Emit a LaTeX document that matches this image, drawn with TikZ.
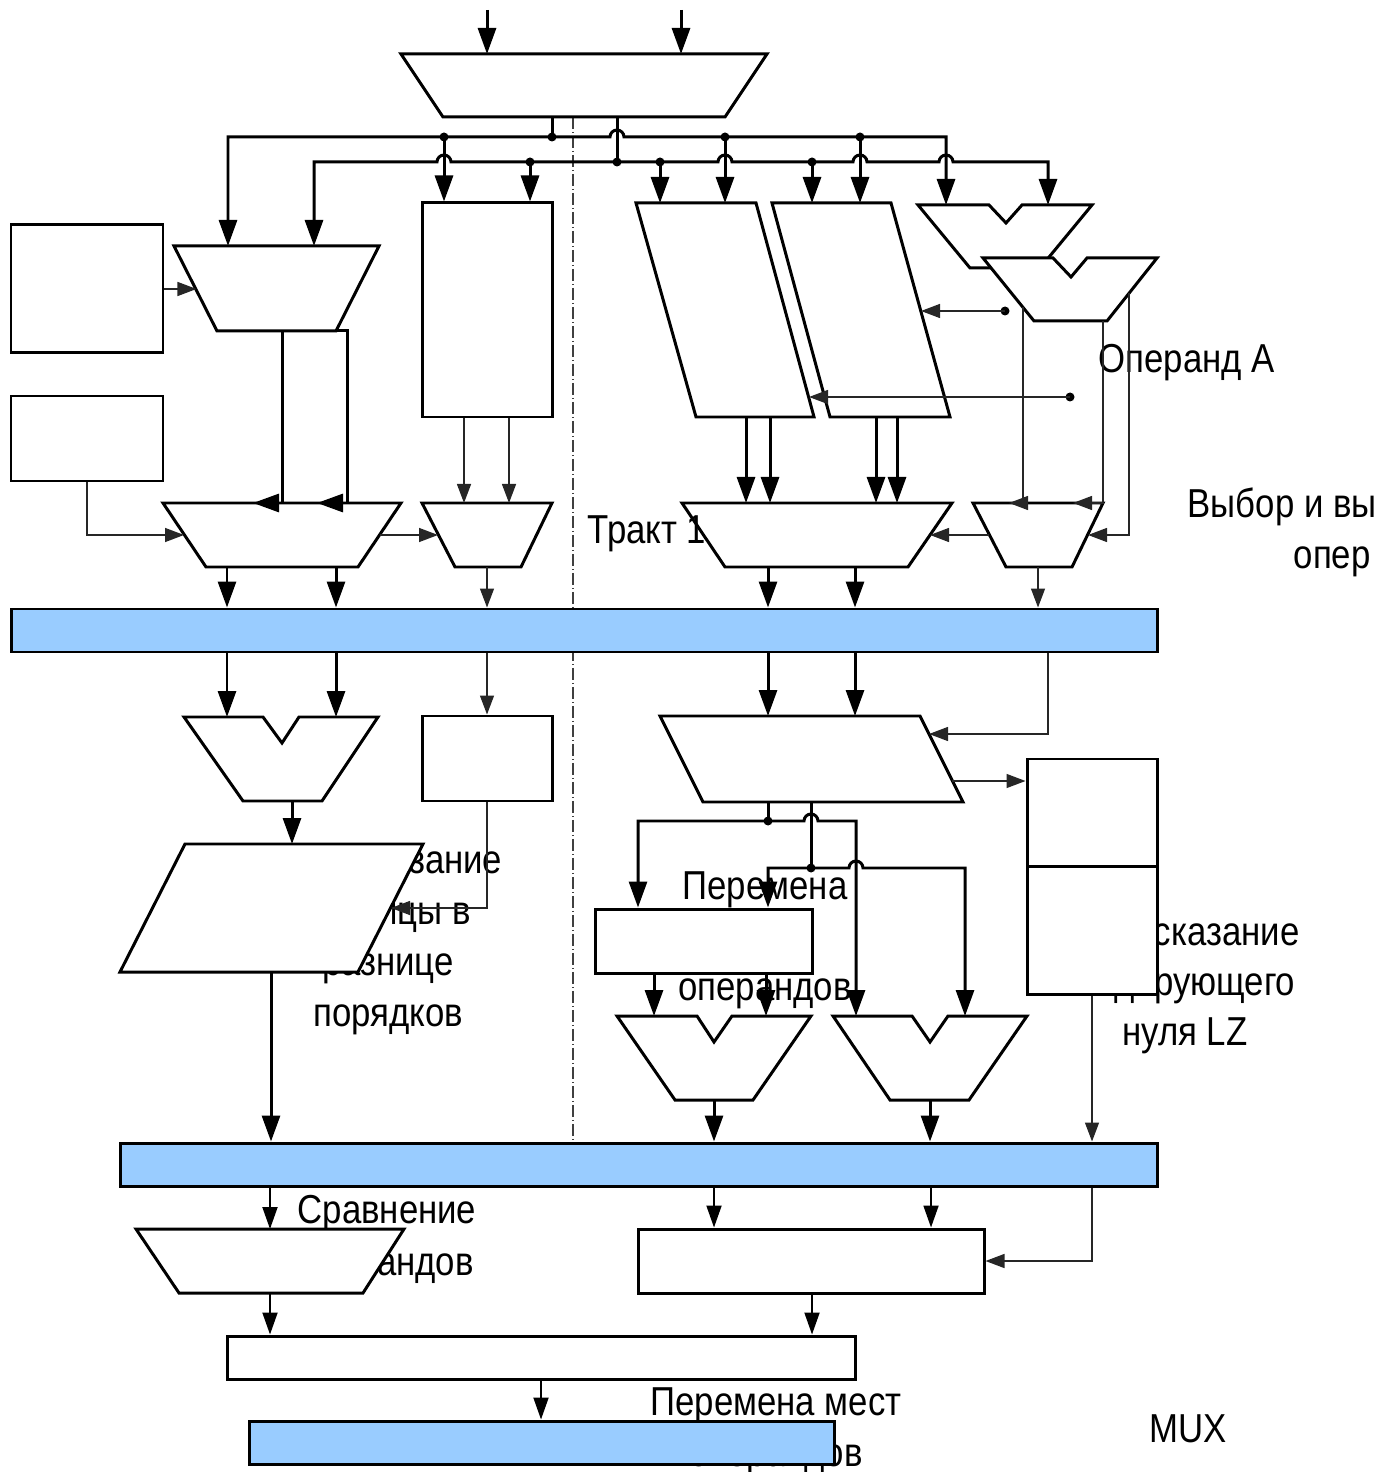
\documentclass[tikz,border=0pt]{standalone}
\usepackage{fontspec}
\setmainfont{Liberation Sans}[FakeStretch=0.86]
\usepackage{tikz}
\usetikzlibrary{arrows.meta, positioning}

\definecolor{busblue}{HTML}{99CCFF}
\newcommand{\lblfont}{\fontsize{11.5pt}{14.5pt}\selectfont}

\begin{document}
\begin{tikzpicture}[
    x=0.1mm, y=-0.1mm,
    blk/.style={draw, line width=0.85pt, fill=white, inner sep=0pt},
    bus/.style={draw, line width=0.85pt, fill=busblue, inner sep=0pt, minimum height=4.3mm},
    shp/.style={draw, line width=0.85pt, fill=white, line join=miter},
    wire/.style={-{Triangle[length=2.6mm, width=1.8mm]}, line width=0.85pt},
    both wire/.style={{Triangle[length=2.6mm, width=1.8mm]}-{Triangle[length=2.6mm, width=1.8mm]}, line width=0.85pt},
    mid wire/.style={-{Triangle[length=2.2mm, width=1.5mm]}, line width=0.55pt},
    thin wire/.style={-{Triangle[length=1.9mm, width=1.4mm]}, line width=0.4pt, black!85},
    plain wire/.style={line width=0.85pt},
    divider/.style={line width=0.45pt, black!75, dash pattern=on 1.2mm off 0.3mm on 0.1mm off 0.3mm},
    dot/.style={circle, fill, inner sep=0pt, minimum size=0.9mm},
    lbl/.style={font=\lblfont, inner sep=0pt, anchor=base}
]
\useasboundingbox (0,0) rectangle (1374,1472);

% labels that the blocks partly cover
\node[lbl] (dp1) at (388,873) {Предсказание};
\node[lbl] (dp2) at (388,924) {разницы в};
\node[lbl] (dp3) at (388,975) {разнице};
\node[lbl] (dp4) at (388,1026) {порядков};
\node[lbl] (sw1) at (765,899) {Перемена};
\node[lbl] (sw2) at (765,950) {мест};
\node[lbl] (sw3) at (765,1000) {операндов};
\node[lbl] (lz1) at (1185,945) {Предсказание};
\node[lbl] (lz2) at (1185,995) {лидирующего};
\node[lbl] (lz3) at (1185,1045) {нуля LZ};
\node[lbl] (cmp1) at (387,1223) {Сравнение};
\node[lbl] (cmp2) at (387,1275) {операндов};
\node[lbl] (fin1) at (776,1415) {Перемена мест};
\node[lbl] (fin2) at (776,1466) {операндов};
\node[lbl, anchor=base west] (sel1) at (1187,518) {Выбор и вы};
\node[lbl, anchor=base west] (sel2) at (1293,569) {опер};
\node[lbl, anchor=base west] (opa) at (1098,373) {Операнд А};
\node[lbl, anchor=base west] (mux) at (1149,1442) {MUX};

\draw[divider] (573,117) -- (573,1140);

% row levels
\coordinate (m0t) at (0,54);
\coordinate (m0b) at (0,117);
\coordinate (l1) at (0,137);
\coordinate (l2) at (0,162);
\coordinate (ptop) at (0,203);
\coordinate (s1t) at (0,205);
\coordinate (m1t) at (0,246);
\coordinate (m1b) at (0,331);
\coordinate (pb) at (0,417);
\coordinate (m2t) at (0,503);
\coordinate (m2b) at (0,567);
\coordinate (v1t) at (0,717);
\coordinate (v1b) at (0,801);
\coordinate (p3b) at (0,802);
\coordinate (p4t) at (0,844);
\coordinate (p4b) at (0,972);
\coordinate (v2t) at (0,1016);
\coordinate (v2b) at (0,1100);
\coordinate (tt) at (0,1229);
\coordinate (tb) at (0,1293);

% rectangular blocks and registers
\node[blk, minimum width=15.2mm, minimum height=12.8mm] (ra) at (87,289) {};
\node[blk, minimum width=15.2mm, minimum height=8.5mm] (rb) at (87,438.5) {};
\node[blk, minimum width=13mm, minimum height=21.4mm] (rc) at (487,310) {};
\node[blk, minimum width=13mm, minimum height=8.5mm] (rd) at (487,758.5) {};
\node[blk, minimum width=13mm, minimum height=10.7mm] (re1) at (1092,812.5) {};
\node[blk, minimum width=13mm, minimum height=12.8mm] (re2) at (1092,930) {};
\node[blk, minimum width=21.7mm, minimum height=6.4mm] (rf) at (703.5,941) {};
\node[blk, minimum width=34.6mm, minimum height=6.4mm] (rg) at (811,1261) {};
\node[blk, minimum width=62.8mm, minimum height=4.3mm] (rh) at (541,1357.5) {};
\node[bus, minimum width=114.6mm] (bus1) at (584,630.5) {};
\node[bus, minimum width=103.7mm] (bus2) at (638.5,1164.5) {};
\node[bus, minimum width=58.5mm] (bus3) at (541.5,1442.5) {};

% muxes, shifters, adders
\draw[shp] (401,54) -- (767,54) -- (725,117) -- (443,117) -- cycle;
\draw[shp] (174,246) -- (379,246) -- (336,331) -- (217,331) -- cycle;
\draw[shp] (636,203) -- (756,203) -- (814,417) -- (696,417) -- cycle;
\draw[shp] (772,203) -- (891,203) -- (950,417) -- (830,417) -- cycle;
\draw[shp] (918,205) -- (989,205) -- (1006,223) -- (1022,205) -- (1092,205) -- (1040,268) -- (970,268) -- cycle;
\draw[shp] (983,258) -- (1053,258) -- (1071,277) -- (1087,258) -- (1157,258) -- (1107,321) -- (1034,321) -- cycle;
\draw[shp] (163,503) -- (401,503) -- (358,567) -- (206,567) -- cycle;
\draw[shp] (422,503) -- (552,503) -- (521,567) -- (455,567) -- cycle;
\draw[shp] (682,503) -- (952,503) -- (908,567) -- (725,567) -- cycle;
\draw[shp] (973,503) -- (1103,503) -- (1072,567) -- (1006,567) -- cycle;
\draw[shp] (184,717) -- (263,717) -- (282,743) -- (299,717) -- (378,717) -- (322,801) -- (243,801) -- cycle;
\draw[shp] (660,716) -- (920,716) -- (963,802) -- (703,802) -- cycle;
\draw[shp] (185,844) -- (423,844) -- (358,972) -- (120,972) -- cycle;
\draw[shp] (617,1016) -- (697,1016) -- (714,1042) -- (732,1016) -- (811,1016) -- (753,1100) -- (675,1100) -- cycle;
\draw[shp] (833,1016) -- (912,1016) -- (930,1042) -- (948,1016) -- (1027,1016) -- (969,1100) -- (890,1100) -- cycle;
\draw[shp] (136,1229) -- (404,1229) -- (363,1293) -- (179,1293) -- cycle;

\node[lbl, anchor=base west] (path1) at (587,544) {Тракт 1};

% operand inputs and the two distribution lines
\coordinate (in1) at (487,10);
\coordinate (in2) at (681,10);
\draw[wire] (in1) -- (in1 |- m0t);
\draw[wire] (in2) -- (in2 |- m0t);

\node[dot] (j1) at (552,137) {};
\node[dot] (j2) at (617,162) {};
\draw[plain wire] (j1 |- m0b) -- (j1.center);
\draw[plain wire] (j2 |- m0b) -- (j2.center);

\coordinate (h1) at (617,137);
\coordinate (h2) at (444,162);
\coordinate (h3) at (725,162);
\coordinate (h4) at (860,162);
\coordinate (h5) at (946,162);

\draw[both wire] (228,246) -- (228,137) -- ([xshift=-0.7mm]h1) arc[start angle=180, end angle=0, radius=0.7mm] -- (946,137) -- (946,205);
\draw[both wire] (314,246) -- (314,162)
    -- ([xshift=-0.7mm]h2) arc[start angle=180, end angle=0, radius=0.7mm]
    -- ([xshift=-0.7mm]h3) arc[start angle=180, end angle=0, radius=0.7mm]
    -- ([xshift=-0.7mm]h4) arc[start angle=180, end angle=0, radius=0.7mm]
    -- ([xshift=-0.7mm]h5) arc[start angle=180, end angle=0, radius=0.7mm]
    -- (1048,162) -- (1048,205);

\node[dot] (j3) at (444,137) {};
\node[dot] (j4) at (530,162) {};
\node[dot] (j5) at (660,162) {};
\node[dot] (j6) at (725,137) {};
\node[dot] (j7) at (812,162) {};
\node[dot] (j8) at (860,137) {};
\draw[wire] (j3.center) -- (j3 |- rc.north);
\draw[wire] (j4.center) -- (j4 |- rc.north);
\draw[wire] (j5.center) -- (j5 |- ptop);
\draw[wire] (j6.center) -- (j6 |- ptop);
\draw[wire] (j7.center) -- (j7 |- ptop);
\draw[wire] (j8.center) -- (j8 |- ptop);

% first stage
\draw[thin wire] (ra.east) -- ++(32,0);
\coordinate (m1o1) at (282,331);
\coordinate (m1o2) at (336,331);
\draw[wire] (m1o1) -- (m1o1 |- m2t) -- ++(-29,0);
\draw[wire] (m1o2) -- (347,331) -- (347,503) -- ++(-30,0);
\draw[thin wire] (rb.south) |- (184,535);
\draw[thin wire] (380,535) -- (438,535);
\draw[thin wire] (464,0 |- rc.south) -- (464,0 |- m2t);
\draw[thin wire] (509,0 |- rc.south) -- (509,0 |- m2t);
\draw[wire] (746,0 |- pb) -- (746,0 |- m2t);
\draw[wire] (770,0 |- pb) -- (770,0 |- m2t);
\draw[wire] (876,0 |- pb) -- (876,0 |- m2t);
\draw[wire] (897,0 |- pb) -- (897,0 |- m2t);

\node[dot] (s1) at (1005,311) {};
\node[dot] (s2) at (1070,397) {};
\draw[thin wire] (s1.center) -- (921,311);
\draw[thin wire] (s2.center) -- (809,397);

\draw[thin wire] (1023,307) -- (1023,503) -- (1009,503);
\draw[thin wire] (1103,321) -- (1103,503) -- (1073,503);
\draw[thin wire] (1129,293) -- (1129,535) -- (1088,535);
\draw[thin wire] (989,535) -- (930,535);

\draw[wire] (227,0 |- m2b) -- (227,0 |- bus1.north);
\draw[wire] (336,0 |- m2b) -- (336,0 |- bus1.north);
\draw[thin wire] (487,0 |- m2b) -- (487,0 |- bus1.north);
\draw[wire] (768,0 |- m2b) -- (768,0 |- bus1.north);
\draw[wire] (855,0 |- m2b) -- (855,0 |- bus1.north);
\draw[thin wire] (1038,0 |- m2b) -- (1038,0 |- bus1.north);

% second stage
\draw[wire] (227,0 |- bus1.south) -- (227,0 |- v1t);
\draw[wire] (336,0 |- bus1.south) -- (336,0 |- v1t);
\draw[thin wire] (487,0 |- bus1.south) -- (rd.north);
\draw[wire] (768,0 |- bus1.south) -- (768,716);
\draw[wire] (855,0 |- bus1.south) -- (855,716);
\draw[thin wire] (1048,0 |- bus1.south) -- (1048,734) -- (929,734);
\draw[thin wire] (952,781) -- (re1.west |- 0,781);

\draw[wire] (292,0 |- v1b) -- (292,0 |- p4t);
\draw[thin wire] (rd.south) |- (391,908);
\draw[wire] (271,0 |- p4b) -- (271,0 |- bus2.north);

\coordinate (p3o1) at (768,802);
\coordinate (p3o2) at (811,802);
\node[dot] (j9) at (768,821) {};
\node[dot] (j10) at (811,868) {};
\coordinate (h6) at (811,821);
\coordinate (h7) at (856,868);
\draw[plain wire] (p3o1) -- (j9.center);
\draw[plain wire] (p3o2) -- (j10.center);
\draw[both wire] (638,0 |- rf.north) -- (638,821) -- ([xshift=-0.7mm]h6) arc[start angle=180, end angle=0, radius=0.7mm] -- (856,821) -- (856,0 |- v2t);
\draw[both wire] (768,0 |- rf.north) -- (768,868) -- ([xshift=-0.7mm]h7) arc[start angle=180, end angle=0, radius=0.7mm] -- (965,868) -- (965,0 |- v2t);

\draw[wire] (654,0 |- rf.south) -- (654,0 |- v2t);
\draw[wire] (766,0 |- rf.south) -- (766,0 |- v2t);
\draw[wire] (714,0 |- v2b) -- (714,0 |- bus2.north);
\draw[wire] (930,0 |- v2b) -- (930,0 |- bus2.north);
\draw[thin wire] (re2.south) -- (re2.south |- bus2.north);

% third stage
\draw[mid wire] (270,0 |- bus2.south) -- (270,0 |- tt);
\draw[mid wire] (714,0 |- bus2.south) -- (714,0 |- rg.north);
\draw[mid wire] (931,0 |- bus2.south) -- (931,0 |- rg.north);
\draw[thin wire] (1092,0 |- bus2.south) |- (rg.east);
\draw[mid wire] (270,0 |- tb) -- (270,0 |- rh.north);
\draw[mid wire] (812,0 |- rg.south) -- (812,0 |- rh.north);
\draw[mid wire] (rh.south) -- (rh.south |- bus3.north);

\end{tikzpicture}
\end{document}
